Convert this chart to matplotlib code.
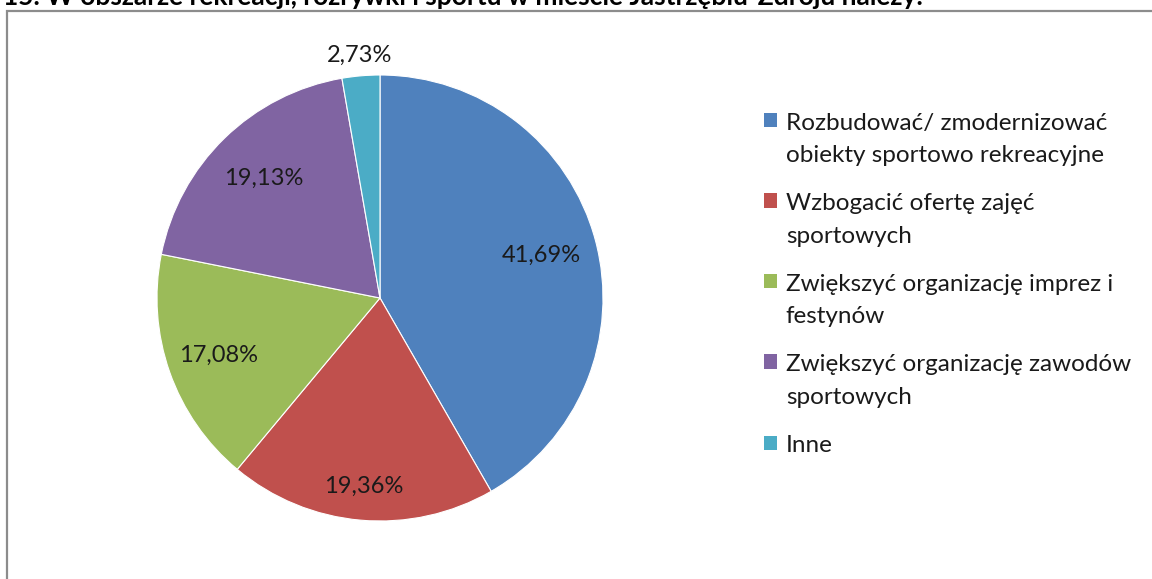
import numpy as np
import matplotlib.pyplot as plt
from matplotlib.patches import Patch, Rectangle
from matplotlib.legend_handler import HandlerPatch

# =============================================================================
# DANE
# =============================================================================

LABELS = [
    "Rozbudować/ zmodernizować\nobiekty sportowo rekreacyjne",
    "Wzbogacić ofertę zajęć\nsportowych",
    "Zwiększyć organizację imprez i\nfestynów",
    "Zwiększyć organizację zawodów\nsportowych",
    "Inne",
]
VALUES = [41.69, 19.36, 17.08, 19.13, 2.73]
COLORS = ["#4F81BD", "#C0504D", "#9BBB59", "#8064A2", "#4BACC6"]
LABEL_DIST = [0.75, 0.85, 0.77, 0.75, 1.09]

TITLE = "15. W obszarze rekreacji, rozrywki i sportu w mieście Jastrzębiu-Zdroju należy:"

FONT = ["Lato", "DejaVu Sans"]
plt.rcParams["font.family"] = FONT

LEG_FS = 17.5
LINESP = 1.66

# =============================================================================

W, H = 1152, 579
fig = plt.figure(figsize=(W / 100, H / 100), dpi=100)

# ramka wykresu (ucięta z prawej i z dołu)
fig.patches.append(Rectangle((7 / W, -0.1), 1.2, 1.1 - 11.5 / H,
                             transform=fig.transFigure, fill=False,
                             edgecolor="#8c8c8c", linewidth=1.6, zorder=0))

# tytuł ucięty u góry
fig.text(3 / W, 1 - 5 / H, TITLE, fontsize=19, fontweight="bold",
         ha="left", va="baseline", color="black")

cx, cy, r = 380, 298, 223
ax = fig.add_axes([(cx - r) / W, (H - cy - r) / H, 2 * r / W, 2 * r / H])
wedges, _ = ax.pie(VALUES, colors=COLORS, startangle=90, counterclock=False,
                   radius=1.0,
                   wedgeprops=dict(edgecolor="white", linewidth=0.8))
ax.set_xlim(-1, 1)
ax.set_ylim(-1, 1)
ax.set_aspect("equal")
ax.axis("off")

for w, v, d in zip(wedges, VALUES, LABEL_DIST):
    ang = np.deg2rad((w.theta1 + w.theta2) / 2)
    ax.text(d * np.cos(ang), d * np.sin(ang), f"{v:.2f}%".replace(".", ","),
            ha="center", va="center", fontsize=17, color="#1a1a1a",
            clip_on=False)


# kwadracik legendy przy pierwszej linii opisu (jak w Excelu)
def square_handler(n_lines):
    shift = (n_lines - 1) * LINESP * LEG_FS * 1.2 / 2 * 0.8

    def make(legend, orig_handle, xdescent, ydescent, width, height, fontsize):
        return Rectangle((-xdescent, -ydescent + shift), width, height)
    return HandlerPatch(patch_func=make)


handles = [Patch(facecolor=c, edgecolor="none") for c in COLORS]
hmap = {h: square_handler(lab.count("\n") + 1) for h, lab in zip(handles, LABELS)}
leg = fig.legend(handles, LABELS, loc="upper left", handler_map=hmap,
                 bbox_to_anchor=(764 / W, 1 - 113 / H),
                 frameon=False, fontsize=LEG_FS, handlelength=0.55,
                 handleheight=0.55, handletextpad=0.35, labelspacing=1.12,
                 borderaxespad=0, borderpad=0)
for t in leg.get_texts():
    t.set_linespacing(LINESP)
    t.set_color("#1a1a1a")

fig.savefig("out.png", dpi=100)
